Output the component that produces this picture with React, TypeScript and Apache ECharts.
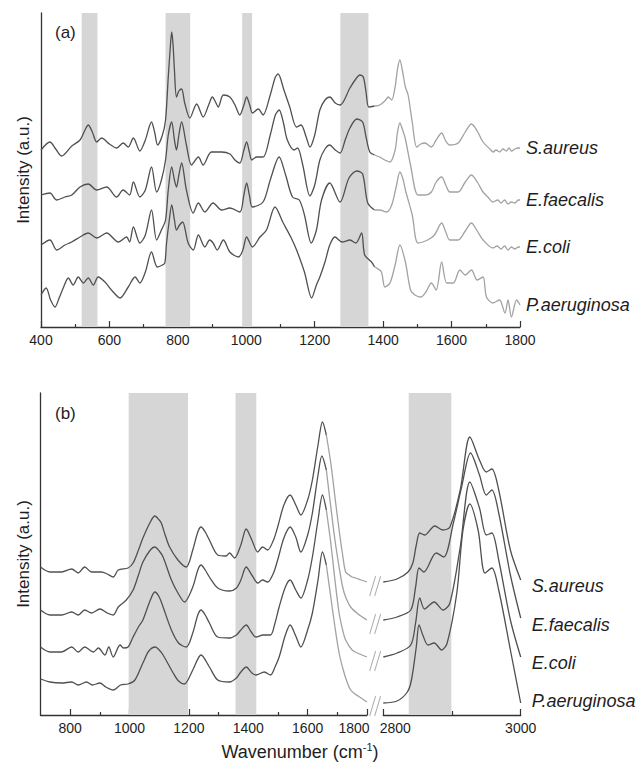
import React, { useEffect, useRef } from 'react';
import * as echarts from 'echarts';

type Pt = [number, number];

const species = ['S.aureus', 'E.faecalis', 'E.coli', 'P.aeruginosa'];

// ---------- Panel (a): 400–1800 cm-1 (intensity incl. vertical offset, a.u.) ----------
const aSaureus: Pt[] = [
  [400,177],[426,185],[443,178],[460,171],[490,181],[514,187],[530,198],[538,202],[550,195],[563,185],[577,189],[600,183],[621,179],[640,184],[655,180],[670,189],[689,176],[705,187],[723,205],[732,195],[741,182],[755,192],[764,207],[772,250],[778,280],[782,295],[786,282],[790,257],[796,230],[803,236],[811,238],[820,224],[835,209],[855,223],[874,210],[890,222],[901,230],[910,225],[918,220],[933,232],[952,230],[967,222],[981,212],[993,222],[1001,230],[1010,222],[1018,214],[1035,218],[1049,212],[1070,232],[1085,250],[1093,253],[1110,237],[1127,220],[1147,200],[1160,202],[1175,190],[1186,180],[1200,192],[1215,217],[1230,227],[1244,230],[1260,224],[1274,222],[1303,239],[1320,248],[1332,252],[1342,250],[1350,235],[1358,220],[1375,221],
  [1390,222],[1405,226],[1415,230],[1425,227],[1435,240],[1442,258],[1449,267],[1457,255],[1465,240],[1473,232],[1485,205],[1498,180],[1510,183],[1522,184],[1541,180],[1555,187],[1571,194],[1583,186],[1595,182],[1619,184],[1640,195],[1658,203],[1675,196],[1692,185],[1712,178],[1722,175],[1730,177],[1741,175],[1750,178],[1760,176],[1768,179],[1775,176],[1785,178],[1795,179],[1800,179]
];
const aEfaecalis: Pt[] = [
  [400,132],[426,134],[446,127],[470,130],[490,132],[514,140],[538,143],[563,137],[592,140],[621,130],[640,137],[659,132],[670,145],[689,130],[705,137],[723,160],[738,135],[752,147],[764,167],[772,192],[782,205],[790,187],[796,177],[803,192],[811,205],[825,182],[840,162],[860,170],[874,162],[898,175],[928,175],[952,173],[967,167],[981,164],[993,177],[1001,185],[1009,175],[1016,167],[1030,170],[1049,170],[1070,192],[1085,212],[1096,217],[1108,205],[1120,187],[1140,177],[1150,179],[1165,162],[1186,131],[1200,142],[1215,167],[1230,178],[1244,182],[1260,177],[1274,174],[1290,188],[1303,199],[1323,208],[1340,205],[1350,190],[1361,175],[1375,172],
  [1390,170],[1405,167],[1420,165],[1435,177],[1442,195],[1449,204],[1457,197],[1465,188],[1480,162],[1502,132],[1522,132],[1541,135],[1555,145],[1571,150],[1583,142],[1595,135],[1619,135],[1640,145],[1658,152],[1675,145],[1692,135],[1706,130],[1721,125],[1735,127],[1745,124],[1755,127],[1765,123],[1775,125],[1785,124],[1795,127],[1800,127]
];
const aEcoli: Pt[] = [
  [400,82],[426,87],[446,77],[470,82],[490,85],[514,90],[538,94],[563,89],[592,94],[626,85],[650,90],[659,85],[670,100],[689,84],[705,92],[723,117],[738,87],[752,97],[764,107],[772,137],[782,160],[790,147],[796,140],[803,152],[811,164],[825,137],[845,114],[860,124],[879,115],[903,124],[928,117],[952,119],[981,115],[993,132],[1001,144],[1009,132],[1018,120],[1049,125],[1070,147],[1096,170],[1115,152],[1135,130],[1155,127],[1170,112],[1190,84],[1205,97],[1220,127],[1244,144],[1274,125],[1300,149],[1323,156],[1340,153],[1355,124],[1375,117],
  [1390,117],[1410,115],[1425,122],[1438,140],[1449,155],[1458,148],[1465,137],[1485,112],[1502,84],[1530,87],[1550,92],[1571,104],[1583,95],[1595,87],[1619,87],[1640,96],[1658,104],[1675,96],[1692,87],[1721,79],[1733,81],[1745,78],[1755,81],[1765,77],[1775,80],[1785,78],[1795,80],[1800,80]
];
const aPaeruginosa: Pt[] = [
  [400,32],[415,39],[428,27],[441,20],[453,29],[465,39],[480,49],[494,42],[509,50],[524,44],[538,49],[553,42],[567,50],[587,45],[606,37],[631,29],[655,40],[675,50],[689,44],[705,55],[723,75],[740,60],[755,62],[762,64],[767,84],[775,107],[782,122],[790,107],[796,97],[805,102],[814,105],[830,84],[845,77],[860,92],[879,80],[893,87],[903,84],[915,77],[933,87],[952,75],[977,70],[990,77],[1001,90],[1018,80],[1040,90],[1059,97],[1084,120],[1108,104],[1130,90],[1147,77],[1170,55],[1191,29],[1205,42],[1215,50],[1230,65],[1244,82],[1259,90],[1280,85],[1303,87],[1320,84],[1337,94],[1346,72],[1366,65],[1375,60],
  [1381,59],[1395,55],[1405,40],[1420,44],[1435,62],[1449,82],[1465,65],[1480,37],[1493,32],[1510,30],[1525,35],[1541,44],[1555,37],[1571,65],[1586,44],[1605,44],[1624,57],[1640,52],[1658,57],[1675,47],[1692,50],[1702,30],[1721,24],[1740,27],[1756,14],[1765,27],[1775,10],[1790,27],[1800,22]
];

// ---------- Panel (b): 700–1800 and 2800–3000 cm-1 ----------
const bSaureusLow: Pt[] = [
  [700,148],[732,143],[771,143],[805,146],[827,142],[849,148],[872,143],[905,143],[925,141],[945,138],[962,145],[995,147],[1012,152],[1030,165],[1045,177],[1070,193],[1085,199],[1100,195],[1107,192],[1120,180],[1135,168],[1163,155],[1191,148],[1213,165],[1230,183],[1241,188],[1255,183],[1269,175],[1297,160],[1325,159],[1337,162],[1354,157],[1375,170],[1393,186],[1412,175],[1432,163],[1448,168],[1465,165],[1485,175],[1499,188],[1520,210],[1541,220],[1560,210],[1577,200],[1600,215],[1616,235],[1635,270],[1650,293],[1663,280],
  [1678,252],[1692,218],[1706,185],[1718,160],[1728,143],[1740,140],[1750,138],[1762,137],[1780,135],[1800,133]
];
const bSaureusHigh: Pt[] = [
  [2800,133],[2820,136],[2836,143],[2843,152],[2848,170],[2853,182],[2860,180],[2875,189],[2887,185],[2897,188],[2912,225],[2926,278],[2940,255],[2950,243],[2958,246],[2968,225],[2985,165],[3000,135]
];
const bEfaecalisLow: Pt[] = [
  [700,105],[732,100],[771,100],[805,103],[827,100],[849,105],[872,102],[900,106],[925,102],[945,100],[962,108],[989,115],[1012,125],[1030,140],[1045,153],[1070,165],[1085,168],[1100,164],[1113,158],[1141,135],[1163,122],[1185,113],[1213,128],[1230,145],[1241,150],[1255,145],[1269,138],[1297,127],[1337,124],[1360,127],[1375,135],[1393,148],[1412,140],[1432,132],[1448,135],[1465,133],[1485,142],[1499,155],[1520,177],[1541,188],[1560,178],[1577,163],[1600,180],[1616,202],[1635,240],[1648,259],[1663,245],
  [1678,208],[1692,175],[1706,148],[1718,128],[1728,118],[1745,108],[1770,101],[1800,95]
];
const bEfaecalisHigh: Pt[] = [
  [2800,95],[2820,98],[2840,105],[2847,128],[2852,147],[2859,143],[2877,162],[2888,158],[2902,192],[2914,228],[2927,262],[2940,240],[2950,220],[2958,225],[2968,202],[2985,140],[3000,97]
];
const bEcoliLow: Pt[] = [
  [700,68],[732,63],[771,63],[805,68],[827,63],[849,68],[878,63],[895,67],[917,60],[930,68],[945,58],[968,70],[980,67],[995,68],[1012,78],[1030,88],[1045,95],[1070,115],[1085,123],[1100,118],[1113,108],[1141,85],[1165,72],[1191,68],[1213,82],[1230,100],[1241,105],[1255,100],[1269,92],[1297,78],[1337,77],[1360,80],[1375,85],[1393,90],[1410,83],[1426,78],[1450,80],[1475,80],[1490,92],[1504,108],[1525,128],[1541,135],[1560,125],[1577,117],[1600,135],[1616,158],[1635,195],[1650,220],[1663,205],
  [1678,172],[1692,135],[1706,102],[1718,85],[1728,75],[1750,65],[1775,61],[1800,58]
];
const bEcoliHigh: Pt[] = [
  [2800,58],[2820,62],[2840,70],[2847,92],[2853,117],[2860,106],[2874,113],[2887,105],[2897,112],[2912,168],[2926,233],[2940,207],[2950,180],[2958,182],[2968,155],[2985,95],[3000,58]
];
const bPaeruginosaLow: Pt[] = [
  [700,36],[732,33],[771,32],[805,33],[827,30],[855,33],[875,30],[900,32],[920,28],[945,25],[970,30],[995,31],[1018,35],[1045,52],[1065,64],[1087,68],[1100,65],[1113,60],[1147,42],[1165,34],[1185,31],[1213,45],[1241,60],[1269,48],[1297,35],[1337,33],[1360,37],[1375,43],[1393,48],[1412,42],[1426,40],[1454,43],[1475,40],[1490,48],[1504,58],[1525,80],[1541,90],[1560,79],[1577,68],[1600,85],[1616,102],[1635,135],[1650,163],[1663,150],
  [1678,118],[1692,88],[1706,62],[1720,45],[1734,32],[1745,25],[1760,21],[1780,17],[1800,13]
];
const bPaeruginosaHigh: Pt[] = [
  [2800,12],[2820,14],[2835,23],[2841,35],[2848,68],[2852,90],[2858,79],[2865,70],[2874,72],[2885,65],[2893,72],[2907,122],[2916,185],[2926,211],[2938,185],[2948,142],[2958,147],[2968,125],[2985,65],[3000,12]
];

const aSpectra = [aSaureus, aEfaecalis, aEcoli, aPaeruginosa];
const bSpectraLow = [bSaureusLow, bEfaecalisLow, bEcoliLow, bPaeruginosaLow];
const bSpectraHigh = [bSaureusHigh, bEfaecalisHigh, bEcoliHigh, bPaeruginosaHigh];

// wavenumber where the trace changes from the dark to the light segment
const aSplit = 1375;
const bSplit = 1663;

// shaded bands (cm-1)
const aBands: Pt[] = [[519, 565], [764, 836], [988, 1017], [1275, 1357]];
const bBandsLow: Pt[] = [[997, 1197], [1357, 1427]];
const bBandsHigh: Pt[] = [[2837, 2899]];

// tick values
const bMajorTicks = [800, 1000, 1200, 1400, 1600, 1800];
const bMinorTicks = [900, 1100, 1300, 1500, 1700];

const FONT = "'Liberation Sans', Arial, Helvetica, sans-serif";
const DARK = '#505050';
const LIGHT = '#a2a2a2';
const AXIS = '#333';
const TEXT = '#1e1e1e';
const BAND = '#d6d6d6';

const labelOffsetA: Pt[] = [[1, 0], [1, 0], [1, 0], [1, 0]];
const labelOffsetB: Pt[] = [[6, 6], [6, 7], [6, 6], [6, -2]];

function lineSeries(name: string, data: Pt[], xi: number, yi: number, color: string, endOffset?: Pt) {
  const s: any = {
    type: 'line',
    name,
    data,
    xAxisIndex: xi,
    yAxisIndex: yi,
    showSymbol: false,
    symbol: 'none',
    smooth: 0.3,
    z: 3,
    silent: true,
    lineStyle: { color, width: 1.3 },
  };
  if (endOffset) {
    s.endLabel = {
      show: true,
      formatter: '{a}',
      color: TEXT,
      fontSize: 18,
      fontStyle: 'italic',
      fontFamily: FONT,
      distance: 5,
      offset: endOffset,
    };
  }
  return s;
}

function bandSeries(bands: Pt[], xi: number, yi: number) {
  return {
    type: 'line',
    data: [],
    xAxisIndex: xi,
    yAxisIndex: yi,
    z: 1,
    silent: true,
    markArea: {
      silent: true,
      itemStyle: { color: BAND },
      data: bands.map(([a, b]) => [{ xAxis: a }, { xAxis: b }]),
    },
  };
}

function buildOption() {
  const series: any[] = [];
  series.push(bandSeries(aBands, 0, 0));
  series.push(bandSeries(bBandsLow, 1, 1));
  series.push(bandSeries(bBandsHigh, 3, 2));

  aSpectra.forEach((sp, i) => {
    series.push(lineSeries(species[i], sp.filter(p => p[0] <= aSplit), 0, 0, DARK));
    series.push(lineSeries(species[i], sp.filter(p => p[0] >= aSplit), 0, 0, LIGHT, labelOffsetA[i]));
  });
  bSpectraLow.forEach((sp, i) => {
    series.push(lineSeries(species[i], sp.filter(p => p[0] <= bSplit), 1, 1, DARK));
    series.push(lineSeries(species[i], sp.filter(p => p[0] >= bSplit), 1, 1, LIGHT));
  });
  bSpectraHigh.forEach((sp, i) => {
    series.push(lineSeries(species[i], sp, 3, 2, DARK, labelOffsetB[i]));
  });

  // axis-break marks "//" at the level where each trace leaves the low range
  series.push({
    type: 'scatter',
    xAxisIndex: 4,
    yAxisIndex: 3,
    silent: true,
    z: 4,
    symbol: 'path://M0,20L6,0M5,20L11,0',
    symbolSize: [11, 20],
    symbolOffset: [0, 4],
    itemStyle: { color: 'none', borderColor: '#9a9a9a', borderWidth: 1.2 },
    data: bSpectraLow.map(sp => [0.5, sp[sp.length - 1][1]]),
  });

  const tickLabel = { fontSize: 14, color: TEXT, fontFamily: FONT, margin: 6 };
  const yName = {
    name: 'Intensity (a.u.)',
    nameLocation: 'middle',
    nameGap: 9,
    nameTextStyle: { fontSize: 17, color: TEXT, fontFamily: FONT },
  };
  const axisLine = { show: true, onZero: false, lineStyle: { color: AXIS, width: 1.3 } };

  return {
    animation: false,
    backgroundColor: '#ffffff',
    grid: [
      { left: 41, top: 13, width: 479, height: 314, outerBoundsMode: 'none' },
      { left: 40.5, top: 393, width: 326.5, height: 322, outerBoundsMode: 'none' },
      { left: 383.3, top: 393, width: 137.4, height: 322, outerBoundsMode: 'none' },
      { left: 367, top: 393, width: 16.3, height: 322, outerBoundsMode: 'none' },
    ],
    xAxis: [
      {
        type: 'value', gridIndex: 0, min: 400, max: 1800, interval: 200,
        axisLine,
        axisTick: { show: true, inside: true, length: 6, lineStyle: { color: AXIS, width: 1.2 } },
        minorTick: { show: true, splitNumber: 2, length: 3, lineStyle: { color: AXIS, width: 1.2 } },
        axisLabel: { ...tickLabel, formatter: (v: number) => String(v) },
        splitLine: { show: false },
        minorSplitLine: { show: false },
      },
      {
        type: 'value', gridIndex: 1, min: 700, max: 1800,
        axisLine,
        axisTick: { show: true, inside: true, length: 6, customValues: bMajorTicks, lineStyle: { color: AXIS, width: 1.2 } },
        axisLabel: {
          ...tickLabel,
          customValues: bMajorTicks,
          formatter: (v: number) => (v === 1800 ? '{r|1800}' : String(v)),
          rich: { r: { fontSize: 14, color: TEXT, fontFamily: FONT, padding: [0, 26, 0, 0] } },
        },
        splitLine: { show: false },
      },
      {
        type: 'value', gridIndex: 1, min: 700, max: 1800, position: 'bottom',
        axisLine: { show: false },
        axisTick: { show: true, inside: true, length: 3, customValues: bMinorTicks, lineStyle: { color: AXIS, width: 1.2 } },
        axisLabel: { show: false },
        splitLine: { show: false },
      },
      {
        type: 'value', gridIndex: 2, min: 2800, max: 3000, interval: 200,
        axisLine,
        axisTick: { show: true, inside: true, length: 6, lineStyle: { color: AXIS, width: 1.2 } },
        minorTick: { show: true, splitNumber: 2, length: 4, lineStyle: { color: AXIS, width: 1.2 } },
        axisLabel: {
          ...tickLabel,
          formatter: (v: number) => (v === 2800 ? '{l|2800}' : String(v)),
          rich: { l: { fontSize: 14, color: TEXT, fontFamily: FONT, padding: [0, 0, 0, 24] } },
        },
        splitLine: { show: false },
        minorSplitLine: { show: false },
      },
      { type: 'value', gridIndex: 3, min: 0, max: 1, show: false },
    ],
    yAxis: [
      {
        type: 'value', gridIndex: 0, min: 0, max: 314, ...yName,
        axisLine, axisTick: { show: false }, axisLabel: { show: false }, splitLine: { show: false },
      },
      {
        type: 'value', gridIndex: 1, min: 0, max: 322, ...yName,
        axisLine, axisTick: { show: false }, axisLabel: { show: false }, splitLine: { show: false },
      },
      { type: 'value', gridIndex: 2, min: 0, max: 322, show: false },
      { type: 'value', gridIndex: 3, min: 0, max: 322, show: false },
    ],
    graphic: [
      {
        type: 'text', left: 55, top: 24, silent: true,
        style: { text: '(a)', fontSize: 17, fontFamily: FONT, fill: TEXT },
      },
      {
        type: 'text', left: 55, top: 405, silent: true,
        style: { text: '(b)', fontSize: 17, fontFamily: FONT, fill: TEXT },
      },
      {
        type: 'text', x: 300, y: 752, silent: true,
        style: {
          text: '{n|Wavenumber (cm}{s|-1}{n|)}',
          align: 'center',
          verticalAlign: 'middle',
          rich: {
            n: { fontSize: 18, fontFamily: FONT, fill: TEXT, lineHeight: 22 },
            s: { fontSize: 11, fontFamily: FONT, fill: TEXT, verticalAlign: 'top', lineHeight: 22 },
          },
        },
      },
    ],
    series,
  };
}

export default function App() {
  const ref = useRef<HTMLDivElement>(null);
  useEffect(() => {
    if (!ref.current) return;
    const chart = echarts.init(ref.current, null, { renderer: 'svg' });
    chart.setOption(buildOption() as any);
    return () => chart.dispose();
  }, []);
  return (
    <div
      ref={ref}
      style={{ position: 'absolute', left: 0, top: 0, width: 640, height: 767, background: '#ffffff' }}
    />
  );
}
